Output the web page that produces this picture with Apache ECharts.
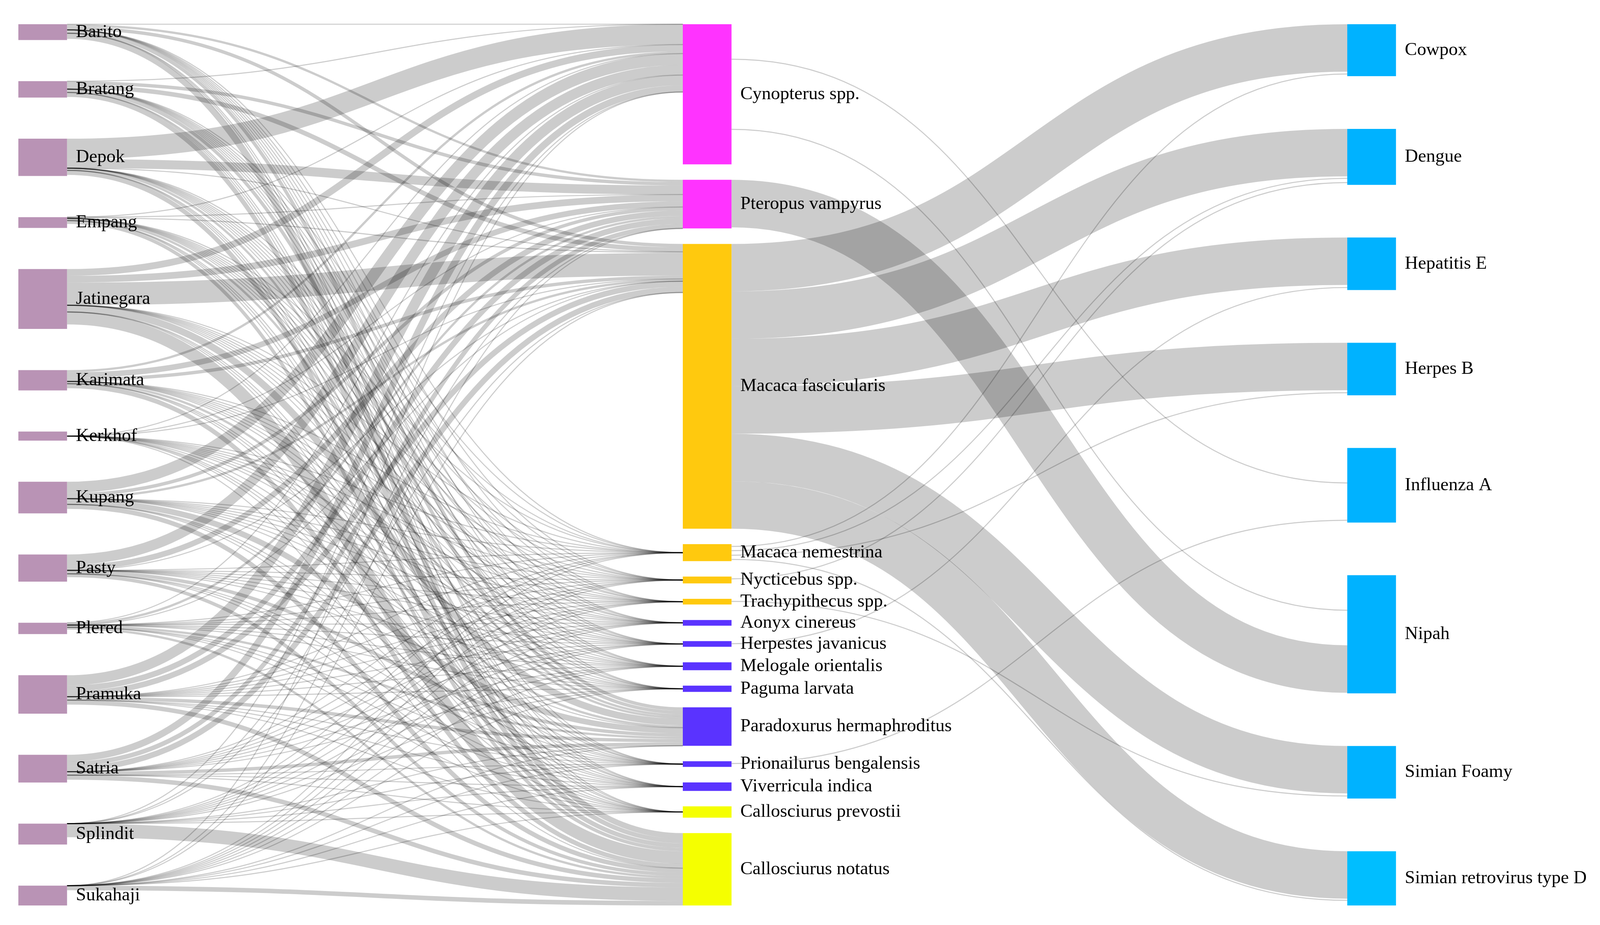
<!DOCTYPE html>
<html>
<head>
<meta charset="utf-8">
<script src="https://cdn.jsdelivr.net/npm/echarts@6/dist/echarts.min.js"></script>
<style>
html,body{margin:0;padding:0;background:#ffffff;overflow:hidden;}
#chart{width:100vw;height:100vh;}
</style>
</head>
<body>
<div id="chart"></div>
<script>
// ---------------- DATA ----------------
const markets = ['Barito','Bratang','Depok','Empang','Jatinegara','Karimata','Kerkhof','Kupang','Pasty','Plered','Pramuka','Satria','Splindit','Sukahaji'];
const marketValues = [14, 14.5, 33, 9.5, 53, 18, 8, 28, 24, 10, 34, 24.5, 18.5, 17.5];

const species = ['Cynopterus spp.','Pteropus vampyrus','Macaca fascicularis','Macaca nemestrina','Nycticebus spp.','Trachypithecus spp.','Aonyx cinereus','Herpestes javanicus','Melogale orientalis','Paguma larvata','Paradoxurus hermaphroditus','Prionailurus bengalensis','Viverricula indica','Callosciurus prevostii','Callosciurus notatus'];
const speciesValues = [124, 43, 251.5, 15, 6, 5, 5, 5, 7, 5.5, 34, 5, 7.5, 10, 64];
const speciesGroup = ['bat','bat','primate','primate','primate','primate','carnivore','carnivore','carnivore','carnivore','carnivore','carnivore','carnivore','squirrel','squirrel'];

const viruses = ['Cowpox','Dengue','Hepatitis E','Herpes B','Influenza A','Nipah','Simian Foamy','Simian retrovirus type D'];
const virusValues = [46, 49.5, 46.5, 46.5, 66, 104.5, 46.5, 48];

// market -> species flows (rows: markets, cols: species in the order above)
const marketSpecies = [
  // Cyn Pte Mfa Mne Nyc Tra Aon Her Mel Pag Par Pri Viv Cpr Cno
  [  0,  2,  3,  0,  0,  0,  0,  0,  0,  0,  3,  0,  0,  0,  5], // Barito
  [  0,  3,  4,  0,  0,  0,  0,  0,  0,  0,  3,  0,  0,  0,  4], // Bratang
  [ 18,  8,  0,  0,  0,  0,  0,  0,  0,  0,  2,  0,  0,  0,  4], // Depok
  [  0,  0,  1,  0,  0,  0,  0,  0,  0,  0,  2,  0,  0,  0,  3], // Empang
  [  6,  6, 20,  0,  0,  0,  0,  0,  0,  0,  6,  0,  0,  0, 11], // Jatinegara
  [  2,  5,  3,  0,  0,  0,  0,  0,  0,  0,  2,  0,  0,  0,  4], // Karimata
  [  0,  0,  0,  0,  0,  0,  0,  0,  0,  0,  0,  0,  0,  0,  0], // Kerkhof
  [ 10,  3,  2,  0,  0,  0,  0,  0,  0,  0,  5,  0,  0,  0,  4], // Kupang
  [  9,  5,  0,  0,  0,  0,  0,  0,  0,  0,  3,  0,  0,  0,  3], // Pasty
  [  0,  2,  0,  0,  0,  0,  0,  0,  0,  0,  2,  0,  0,  0,  2], // Plered
  [  9,  5,  5,  0,  0,  0,  0,  0,  0,  0,  3,  0,  0,  0,  4], // Pramuka
  [  6,  4,  5,  0,  0,  0,  0,  0,  0,  0,  3,  0,  0,  0,  4], // Satria
  [  0,  0,  0,  0,  0,  0,  0,  0,  0,  0,  0,  0,  0,  0, 12], // Splindit
  [  0,  0,  0,  0,  0,  0,  0,  0,  0,  0,  0,  0,  0,  0,  4]  // Sukahaji
];

// species -> virus flows (null = no link)
const speciesVirus = [
  // Cow   Den   HepE  HerB  FluA  Nipah SF    SRV-D
  [null, null, null, null,   62,   62, null, null], // Cynopterus
  [null, null, null, null, null,   42, null, null], // Pteropus
  [  42,   42,   42,   42, null, null,   42,   42], // M. fascicularis
  [   4,  3.5, null,  4.5, null, null, null,    3], // M. nemestrina
  [null,    4, null, null, null, null, null, null], // Nycticebus
  [null, null, null, null, null, null,  4.5, null], // Trachypithecus
  [null, null, null, null, null, null, null, null], // Aonyx
  [null, null,  4.5, null, null, null, null, null], // Herpestes
  [null, null, null, null, null, null, null, null], // Melogale
  [null, null, null, null, null, null, null, null], // Paguma
  [null, null, null, null, null, null, null, null], // Paradoxurus
  [null, null, null, null,    4, null, null, null], // Prionailurus
  [null, null, null, null, null, null, null, null], // Viverricula
  [null, null, null, null, null, null, null, null], // C. prevostii
  [null, null, null, null, null, null, null, null]  // C. notatus
];

// ---------------- STYLE ----------------
const thinSpeciesVirus = [
  ['Cynopterus spp.','Influenza A'], ['Cynopterus spp.','Nipah'],
  ['Macaca nemestrina','Cowpox'], ['Macaca nemestrina','Dengue'], ['Macaca nemestrina','Herpes B'], ['Macaca nemestrina','Simian retrovirus type D'],
  ['Nycticebus spp.','Dengue'], ['Trachypithecus spp.','Simian Foamy'], ['Herpestes javanicus','Hepatitis E'],
  ['Prionailurus bengalensis','Influenza A']
];
const groupColor = {bat:'#FF33FF', primate:'#FFC90E', carnivore:'#5A33FF', squirrel:'#F5FF00'};
const marketColor = '#B993B5';
const virusColors = ['#00B2FF','#00B2FF','#00B2FF','#00B2FF','#00B2FF','#00B2FF','#00B2FF','#00BEFF'];
const MIN_GAP = 13.7;
const LINK_COLOR = 'rgba(0,0,0,0.2)';

// ---------------- LAYOUT (from values) ----------------
const columns = [
  {names: markets, values: marketValues, colors: markets.map(() => marketColor)},
  {names: species, values: speciesValues, colors: speciesGroup.map(g => groupColor[g])},
  {names: viruses, values: virusValues, colors: virusColors}
];
const links = [];
markets.forEach((m, i) => species.forEach((s, j) => {
  links.push({c: 0, s: i, t: j, v: marketSpecies[i][j], thin: false});
}));
species.forEach((s, i) => viruses.forEach((vn, j) => {
  const val = speciesVirus[i][j];
  if (val === null) return;
  const thin = thinSpeciesVirus.some(p => p[0] === s && p[1] === vn);
  links.push({c: 1, s: i, t: j, v: val, thin});
}));

const nodes = columns.map((col, c) => col.names.map((name, i) => ({
  c, i, name, color: col.colors[i], explicit: col.values[i], inSum: 0, outSum: 0
})));
links.forEach(l => { nodes[l.c][l.s].outSum += l.v; nodes[l.c + 1][l.t].inSum += l.v; });
nodes.forEach(col => col.forEach(n => { n.h = Math.max(n.explicit, n.inSum, n.outSum); }));
const sums = nodes.map(col => col.reduce((a, n) => a + n.h, 0));
const YMAX = Math.max(...nodes.map((col, c) => sums[c] + (col.length - 1) * MIN_GAP));
nodes.forEach((col, c) => {
  const gap = (YMAX - sums[c]) / (col.length - 1);
  let y = 0;
  col.forEach(n => { n.y = y; y += n.h + gap; });
});
nodes.forEach(col => col.forEach(n => {
  const outs = links.filter(l => l.c === n.c && l.s === n.i).sort((a, b) => a.t - b.t);
  let off = 0;
  outs.forEach(l => { l.sy = n.outSum === 0 ? n.y + n.h / 2 : n.y + off + l.v / 2; off += l.v; });
  const ins = links.filter(l => l.c + 1 === n.c && l.t === n.i).sort((a, b) => a.s - b.s);
  off = 0;
  ins.forEach(l => { l.ty = n.inSum === 0 ? n.y + n.h / 2 : n.y + off + l.v / 2; off += l.v; });
}));
const flatNodes = [].concat(...nodes);

// ---------------- CHART ----------------
const el = document.getElementById('chart');
const chart = echarts.init(el, null, {renderer: 'canvas'});
const SX = chart.getWidth() / 4533, SY = chart.getHeight() / 2368;
const S = Math.min(SX, SY);
const NODE_W = 138 * SX, MIN_LINE = 3 * S, LABEL_GAP = 25 * SX, FONT = 52 * S;

chart.setOption({
  animation: false,
  backgroundColor: '#ffffff',
  grid: {left: 52 * SX, right: 716 * SX, top: 62 * SY, bottom: 50 * SY},
  xAxis: {type: 'value', min: 0, max: 2, show: false},
  yAxis: {type: 'value', min: 0, max: YMAX, inverse: true, show: false},
  series: [
    {
      type: 'custom',
      coordinateSystem: 'cartesian2d',
      z: 1,
      silent: true,
      data: links.map(l => [l.c, 0]),
      renderItem: function (params, api) {
        const l = links[params.dataIndex];
        const p0 = api.coord([l.c, l.sy]);
        const p1 = api.coord([l.c + 1, l.ty]);
        const x0 = p0[0] + NODE_W, x1 = p1[0], xm = (x0 + x1) / 2;
        const bw = api.coord([0, l.v])[1] - api.coord([0, 0])[1];
        const w = l.thin ? MIN_LINE : Math.max(MIN_LINE, bw);
        return {
          type: 'bezierCurve',
          shape: {x1: x0, y1: p0[1], x2: x1, y2: p1[1], cpx1: xm, cpy1: p0[1], cpx2: xm, cpy2: p1[1]},
          style: {stroke: LINK_COLOR, lineWidth: w, fill: 'none', lineCap: 'butt'}
        };
      }
    },
    {
      type: 'custom',
      coordinateSystem: 'cartesian2d',
      z: 2,
      silent: true,
      data: flatNodes.map(n => [n.c, n.y]),
      renderItem: function (params, api) {
        const n = flatNodes[params.dataIndex];
        const p0 = api.coord([n.c, n.y]);
        const p1 = api.coord([n.c, n.y + n.h]);
        return {
          type: 'group',
          children: [
            {type: 'rect', shape: {x: p0[0], y: p0[1], width: NODE_W, height: p1[1] - p0[1]}, style: {fill: n.color}},
            {type: 'text', x: p0[0] + NODE_W + LABEL_GAP, y: (p0[1] + p1[1]) / 2,
              style: {text: n.name, fill: '#000000', fontSize: FONT, fontFamily: 'Liberation Serif', align: 'left', verticalAlign: 'middle'}}
          ]
        };
      }
    }
  ]
});
</script>
</body>
</html>
